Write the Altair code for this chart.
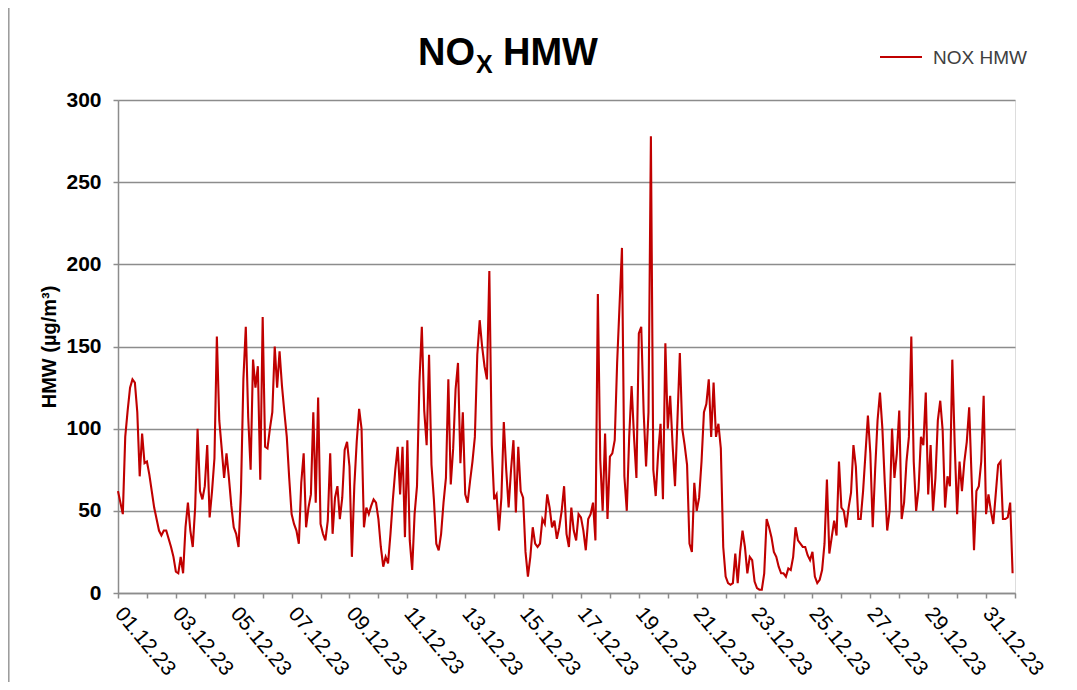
import altair as alt
import pandas as pd

# NOx half-hour means, read every 2 hours (12 per day), 01.12.23 - 31.12.23
nox_hmw = [
    62, 55, 48, 95, 111, 125, 130, 128, 110, 71, 97, 79,        # 01.12
    80, 72, 62, 52, 45, 38, 35, 38, 38, 33, 28, 22,             # 02.12
    13, 12, 22, 12, 40, 55, 38, 28, 52, 100, 62, 57,            # 03.12
    65, 90, 46, 62, 82, 156, 105, 88, 70, 85, 70, 53,           # 04.12
    40, 36, 28, 62, 130, 162, 107, 75, 142, 125, 138, 69,       # 05.12
    168, 89, 88, 100, 110, 150, 125, 147, 126, 110, 95, 70,     # 06.12
    48, 42, 38, 30, 67, 85, 40, 52, 60, 110, 55, 119,           # 07.12
    42, 36, 32, 44, 85, 36, 58, 65, 45, 58, 87, 92,             # 08.12
    77, 22, 65, 92, 112, 100, 40, 52, 48, 53, 57, 55,           # 09.12
    45, 28, 16, 22, 18, 36, 57, 75, 89, 60, 89, 34,             # 10.12
    93, 32, 14, 48, 65, 128, 162, 111, 90, 145, 78, 57,         # 11.12
    30, 26, 36, 55, 70, 130, 66, 88, 124, 140, 79, 110,         # 12.12
    60, 55, 68, 80, 95, 145, 166, 150, 138, 130, 196, 90,       # 13.12
    57, 60, 38, 58, 104, 75, 52, 75, 93, 49, 89, 62,            # 14.12
    58, 25, 10, 22, 40, 30, 28, 30, 45, 42, 60, 52,             # 15.12
    40, 44, 33, 40, 50, 65, 36, 28, 52, 38, 32, 48,             # 16.12
    46, 38, 26, 45, 48, 55, 32, 182, 81, 50, 97, 45,            # 17.12
    83, 85, 93, 140, 175, 210, 71, 50, 95, 126, 95, 70,         # 18.12
    158, 162, 110, 77, 110, 278, 75, 59, 85, 103, 57, 152,      # 19.12
    100, 120, 90, 65, 105, 146, 100, 90, 78, 30, 25, 67,        # 20.12
    50, 58, 80, 110, 115, 130, 95, 128, 95, 103, 88, 28,        # 21.12
    10, 6, 5, 6, 24, 6, 25, 38, 28, 12, 22, 20,                 # 22.12
    7, 3, 2, 2, 12, 45, 40, 34, 25, 22, 16, 12,                 # 23.12
    12, 10, 15, 14, 22, 40, 32, 30, 28, 28, 23, 20,             # 24.12
    25, 10, 6, 8, 14, 30, 69, 24, 34, 44, 35, 80,               # 25.12
    52, 50, 40, 52, 61, 90, 77, 45, 45, 62, 85, 108,            # 26.12
    85, 40, 75, 105, 122, 100, 67, 38, 50, 100, 70, 85,         # 27.12
    111, 45, 55, 80, 95, 156, 80, 50, 63, 95, 90, 122,          # 28.12
    60, 90, 50, 70, 105, 117, 99, 52, 71, 65, 142, 90,          # 29.12
    48, 80, 62, 80, 92, 113, 70, 26, 62, 65, 80, 120,           # 30.12
    48, 60, 50, 42, 60, 78, 80, 45, 45, 46, 55, 12,             # 31.12
]
timestamps = pd.date_range("2023-12-01 00:00", periods=len(nox_hmw), freq="2h")
series_name = "NOX HMW"
y_ticks = [0, 50, 100, 150, 200, 250, 300]
x_tick_days = [alt.DateTime(year=2023, month=12, date=d) for d in range(1, 32)] + [
    alt.DateTime(year=2024, month=1, date=1)
]

RED = "#C00000"
GRID = "#8c8c8c"
FONT = "Liberation Sans"

df = pd.DataFrame({"t": timestamps, "v": nox_hmw})

line = alt.Chart(df).mark_line(color=RED, strokeWidth=2.1).encode(
    x=alt.X(
        "t:T",
        scale=alt.Scale(
            domain=[alt.DateTime(year=2023, month=12, date=1), alt.DateTime(year=2024, month=1, date=1)],
            nice=False,
        ),
        axis=alt.Axis(
            title=None,
            values=x_tick_days,
            grid=False,
            labelExpr="month(datum.value) == 11 && date(datum.value) % 2 == 1 ? timeFormat(datum.value, '%d.%m.%y') : ''",
            labelAngle=50,
            labelAlign="left",
            labelBaseline="middle",
            labelPadding=12,
            labelFontSize=21,
            labelFont=FONT,
            labelColor="#000000",
            labelOverlap=False,
            labelFlush=False,
            tickSize=5,
            tickColor=GRID,
            tickWidth=1.5,
            domainColor=GRID,
            domainWidth=1.5,
        ),
    ),
    y=alt.Y(
        "v:Q",
        scale=alt.Scale(domain=[0, 300], nice=False),
        axis=alt.Axis(
            title="HMW (µg/m³)",
            titleFont=FONT,
            titleFontSize=20,
            titleFontWeight="bold",
            titleColor="#000000",
            titlePadding=6,
            values=y_ticks,
            labelFont=FONT,
            labelFontSize=21,
            labelFontWeight="bold",
            labelColor="#000000",
            labelPadding=12,
            tickSize=5,
            tickColor=GRID,
            tickWidth=1.5,
            domainColor=GRID,
            domainWidth=1.5,
            gridColor=GRID,
            gridWidth=1.5,
        ),
    ),
)

title_no = alt.Chart(pd.DataFrame({"s": ["NO"]})).mark_text(
    font=FONT, fontSize=38, fontWeight="bold", align="left", baseline="alphabetic", color="#000000"
).encode(text="s:N", x=alt.value(300), y=alt.value(-35))
title_x = alt.Chart(pd.DataFrame({"s": ["X"]})).mark_text(
    font=FONT, fontSize=25, fontWeight="bold", align="left", baseline="alphabetic", color="#000000"
).encode(text="s:N", x=alt.value(358), y=alt.value(-27))
title_hmw = alt.Chart(pd.DataFrame({"s": ["HMW"]})).mark_text(
    font=FONT, fontSize=38, fontWeight="bold", align="left", baseline="alphabetic", color="#000000"
).encode(text="s:N", x=alt.value(385), y=alt.value(-35))

legend_line = alt.Chart(pd.DataFrame({"s": [series_name]})).mark_rule(color=RED, strokeWidth=2).encode(
    x=alt.value(762), x2=alt.value(804), y=alt.value(-43)
)
legend_text = alt.Chart(pd.DataFrame({"s": [series_name]})).mark_text(
    font=FONT, fontSize=19, align="left", baseline="middle", color="#404040"
).encode(text="s:N", x=alt.value(815), y=alt.value(-42))

frame_left = alt.Chart(pd.DataFrame({"s": ["frame"]})).mark_rule(color="#999999", strokeWidth=1.5).encode(
    x=alt.value(-109.2), y=alt.value(-92), y2=alt.value(582)
)

chart = alt.layer(line, title_no, title_x, title_hmw, legend_line, legend_text, frame_left).properties(
    width=897,
    height=493,
    autosize=alt.AutoSizeParams(type="none"),
    padding={"left": 110, "top": 92, "right": 54, "bottom": 89},
).configure_view(stroke=None).configure(background="#ffffff")

chart.save("out.html", embed_options={"renderer": "svg", "actions": False})
